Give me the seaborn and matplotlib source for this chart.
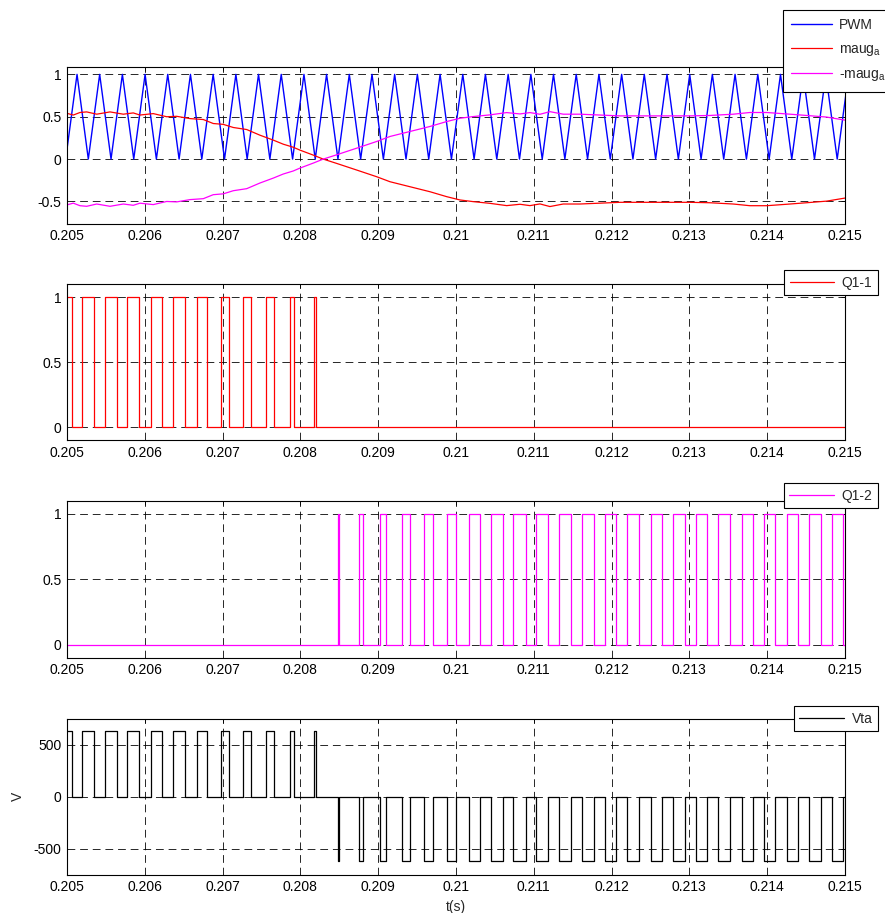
import numpy as np
import matplotlib
matplotlib.use('Agg')
import matplotlib.pyplot as plt
import seaborn as sns

T_START = 0.205
T_END = 0.215

# triangular PWM carrier, vertex times in s (value 0 at troughs, 1 at peaks)
carrier_troughs = [0.204983, 0.205274, 0.205566, 0.205858, 0.206149, 0.206441, 0.206733,
                   0.207025, 0.207316, 0.207608, 0.207900, 0.208191, 0.208483, 0.208775,
                   0.209067, 0.209358, 0.209650, 0.209942, 0.210233, 0.210525, 0.210817,
                   0.211109, 0.211400, 0.211692, 0.211984, 0.212275, 0.212567, 0.212859,
                   0.213151, 0.213442, 0.213734, 0.214026, 0.214317, 0.214609, 0.214901]
carrier_peaks = [0.205129, 0.205420, 0.205712, 0.206004, 0.206295, 0.206587, 0.206879,
                 0.207171, 0.207462, 0.207754, 0.208046, 0.208337, 0.208629, 0.208921,
                 0.209212, 0.209504, 0.209796, 0.210088, 0.210379, 0.210671, 0.210963,
                 0.211254, 0.211546, 0.211838, 0.212130, 0.212421, 0.212713, 0.213005,
                 0.213296, 0.213588, 0.213880, 0.214172, 0.214463, 0.214755, 0.215047]

# modulating signal maug_a
maug_t = [0.205000, 0.205081, 0.205167, 0.205253, 0.205382, 0.205553, 0.205724, 0.205852,
          0.205938, 0.206109, 0.206281, 0.206410, 0.206581, 0.206752, 0.206880, 0.207009,
          0.207138, 0.207310, 0.207481, 0.207652, 0.207780, 0.207909, 0.207995, 0.208166,
          0.208294, 0.208467, 0.208724, 0.208981, 0.209152, 0.209409, 0.209666, 0.209880,
          0.210051, 0.210222, 0.210437, 0.210652, 0.210823, 0.210951, 0.211080, 0.211208,
          0.211379, 0.211594, 0.211851, 0.212108, 0.212407, 0.212708, 0.213008, 0.213265,
          0.213564, 0.213779, 0.213994, 0.214251, 0.214508, 0.214765, 0.215000]
maug_v = [0.54, 0.52, 0.55, 0.557, 0.53, 0.557, 0.53, 0.545,
          0.52, 0.537, 0.50, 0.505, 0.478, 0.467, 0.42, 0.41,
          0.373, 0.349, 0.282, 0.224, 0.176, 0.140, 0.106, 0.047,
          0.0, -0.051, -0.129, -0.208, -0.267, -0.326, -0.385, -0.443,
          -0.482, -0.502, -0.522, -0.549, -0.533, -0.549, -0.529, -0.56,
          -0.53, -0.53, -0.52, -0.51, -0.51, -0.51, -0.51, -0.515,
          -0.53, -0.55, -0.55, -0.533, -0.515, -0.496, -0.46]

# switching instants of the gate signals (Q1-1 starts high, Q1-2 starts low)
q11_edges = [0.205060, 0.205189, 0.205343, 0.205488, 0.205638, 0.205767, 0.205930, 0.206075,
             0.206225, 0.206367, 0.206517, 0.206667, 0.206800, 0.206975, 0.207078, 0.207262,
             0.207361, 0.207562, 0.207656, 0.207871, 0.207922, 0.208179, 0.208200]
q12_edges = [0.208479, 0.208492, 0.208758, 0.208800, 0.209023, 0.209096, 0.209310, 0.209409,
             0.209593, 0.209709, 0.209880, 0.210000, 0.210171, 0.210308, 0.210450, 0.210608,
             0.210737, 0.210896, 0.211028, 0.211178, 0.211324, 0.211474, 0.211615, 0.211774,
             0.211915, 0.212057, 0.212202, 0.212357, 0.212502, 0.212644, 0.212793, 0.212943,
             0.213081, 0.213222, 0.213372, 0.213522, 0.213672, 0.213822, 0.213959, 0.214100,
             0.214250, 0.214400, 0.214542, 0.214687, 0.214829, 0.214979]

# output voltage levels (V)
vta_pos = 630
vta_neg = -620

xtick_vals = [0.205, 0.206, 0.207, 0.208, 0.209, 0.210, 0.211, 0.212, 0.213, 0.214, 0.215]
xtick_labels = ['0.205', '0.206', '0.207', '0.208', '0.209', '0.21',
                '0.211', '0.212', '0.213', '0.214', '0.215']

FS = 10


def gate_steps(edges, start_state):
    states = [(start_state + i) % 2 for i in range(len(edges) + 1)]
    t = np.array([T_START] + edges + [T_END])
    s = np.array(states + [states[-1]])
    return t, s


sns.set_style('white')
plt.rcParams['font.family'] = ['Liberation Sans', 'DejaVu Sans']
plt.rcParams['mathtext.fontset'] = 'custom'
plt.rcParams['mathtext.rm'] = 'Liberation Sans'
plt.rcParams['axes.unicode_minus'] = False

fig = plt.figure(figsize=(8.85, 9.13), dpi=100)
left, width = 0.0757, 0.879
ax1 = fig.add_axes([left, 0.7552, width, 0.1717])
ax2 = fig.add_axes([left, 0.5180, width, 0.1705])
ax3 = fig.add_axes([left, 0.2796, width, 0.1720])
ax4 = fig.add_axes([left, 0.0420, width, 0.1705])

# panel 1: carrier and modulating signals
car_t = np.column_stack([carrier_troughs, carrier_peaks]).ravel()
car_v = np.tile([0.0, 1.0], len(carrier_peaks))
maug = np.array(maug_v)
sns.lineplot(x=car_t, y=car_v, ax=ax1, color='#0000ff', lw=1.0, label='PWM', sort=False)
sns.lineplot(x=maug_t, y=maug, ax=ax1, color='#ff0000', lw=0.9, label='maug$_\\mathrm{a}$')
sns.lineplot(x=maug_t, y=-maug, ax=ax1, color='#ff00ff', lw=0.9, label='-maug$_\\mathrm{a}$')

# panels 2-3: gate signals
t11, s11 = gate_steps(q11_edges, 1)
t12, s12 = gate_steps(q12_edges, 0)
sns.lineplot(x=t11, y=s11, ax=ax2, color='#ff0000', lw=0.9, drawstyle='steps-post', label='Q1-1')
sns.lineplot(x=t12, y=s12, ax=ax3, color='#ff00ff', lw=0.9, drawstyle='steps-post', label='Q1-2')

# panel 4: phase voltage
tv = np.concatenate([t11[:-1], t12[1:]])
vv = np.concatenate([s11[:-1] * vta_pos, s12[1:] * vta_neg])
sns.lineplot(x=tv, y=vv, ax=ax4, color='k', lw=0.9, drawstyle='steps-post', label='Vta')


def style_axis(ax, ylim, yticks, yticklabels):
    ax.set_xlim(T_START, T_END)
    ax.set_ylim(*ylim)
    ax.set_xticks(xtick_vals)
    ax.set_xticklabels(xtick_labels)
    ax.set_yticks(yticks)
    ax.set_yticklabels(yticklabels)
    ax.grid(True, color='k', linestyle=(0, (8, 5)), linewidth=0.7, alpha=0.85)
    ax.tick_params(direction='in', top=True, right=True, length=3, width=0.6,
                   labelsize=FS, colors='k', pad=4)
    for sp in ax.spines.values():
        sp.set_linewidth(0.8)
        sp.set_color('k')
    ax.set_xlabel('')
    ax.set_ylabel('')


def place_legend(ax, anchor, loc, spacing=0.5, hlen=3.2, bpad=0.4):
    leg = ax.legend(loc=loc, bbox_to_anchor=anchor, bbox_transform=fig.transFigure,
                    frameon=True, fancybox=False, framealpha=1, edgecolor='k',
                    fontsize=FS, handlelength=hlen, handletextpad=0.55,
                    borderaxespad=0, borderpad=bpad, labelspacing=spacing)
    leg.get_frame().set_linewidth(0.8)


style_axis(ax1, (-0.76, 1.09), [-0.5, 0, 0.5, 1], ['-0.5', '0', '0.5', '1'])
style_axis(ax2, (-0.1, 1.1), [0, 0.5, 1], ['0', '0.5', '1'])
style_axis(ax3, (-0.1, 1.1), [0, 0.5, 1], ['0', '0.5', '1'])
style_axis(ax4, (-750, 750), [-500, 0, 500], ['-500', '0', '500'])

place_legend(ax1, (783 / 885, 1 - 10 / 913), 'upper left', spacing=0.68, hlen=2.9, bpad=0.6)
place_legend(ax2, (878 / 885, 1 - 270 / 913), 'upper right')
place_legend(ax3, (878 / 885, 1 - 483 / 913), 'upper right')
place_legend(ax4, (878 / 885, 1 - 706 / 913), 'upper right')

ax4.set_ylabel('V', fontsize=FS, labelpad=6)
ax4.set_xlabel('t(s)', fontsize=FS, labelpad=4)

fig.savefig('out.png', dpi=100)
plt.close(fig)
